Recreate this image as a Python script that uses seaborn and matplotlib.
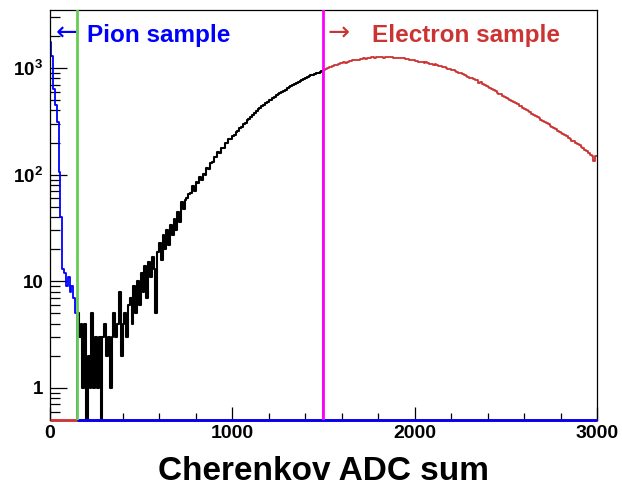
import numpy as np
import matplotlib
matplotlib.use("Agg")
import matplotlib.pyplot as plt
import matplotlib.transforms as mtransforms
from matplotlib.ticker import FixedLocator, MultipleLocator, NullFormatter, LogLocator
import seaborn as sns

# ---------------- data (counts per 10-ADC bin) ----------------
BIN_WIDTH = 10

pion_start = 0
pion_counts = [1760, 1300, 640, 450, 310, 105, 40, 13, 12, 9,
               11, 8, 9, 7, 5, 0]

black_start = 150
black_counts = [
    5, 3, 4, 1, 4, 0, 2, 1, 5, 1,
    3, 1, 3, 0, 3, 4, 2, 3, 1, 3,
    5, 3, 4, 8, 2, 4, 5, 3, 6, 7,
    4, 9, 5, 10, 6, 12, 8, 14, 7, 15,
    11, 17, 13, 5, 19, 23, 16, 27, 20, 30,
    22, 34, 27, 38, 30, 45, 36, 55, 48, 58,
    60, 66, 68, 79, 70, 86, 84, 95, 90, 102,
    100, 116, 114, 128, 130, 145, 146, 162, 160, 178,
    178, 196, 196, 214, 215, 232, 236, 252, 255, 276,
    282, 296, 308, 322, 333, 350, 362, 381, 396, 410,
    422, 440, 450, 468, 478, 496, 506, 522, 538, 555,
    568, 585, 596, 614, 628, 650, 662, 680, 694, 712,
    726, 742, 756, 774, 788, 810, 822, 838, 852, 866,
    876, 892, 902, 916, 932]

electron_start = 1490
electron_counts = [
    0,
    958, 985, 1002, 1030, 1018, 1052, 1070, 1062, 1095, 1108,
    1118, 1132, 1125, 1150, 1168, 1160, 1185, 1178, 1200, 1192,
    1222, 1210, 1236, 1228, 1246, 1238, 1255, 1262, 1244, 1268,
    1258, 1275, 1262, 1250, 1268, 1260, 1255, 1264, 1248, 1252,
    1245, 1238, 1250, 1230, 1232, 1212, 1220, 1200, 1195, 1178,
    1165, 1172, 1150, 1142, 1148, 1122, 1130, 1110, 1098, 1088,
    1078, 1080, 1058, 1048, 1040, 1025, 1012, 1008, 985, 972,
    958, 948, 935, 922, 905, 892, 878, 860, 850, 832,
    808, 812, 790, 770, 765, 728, 735, 712, 690, 672,
    658, 645, 640, 618, 610, 588, 575, 572, 550, 538,
    522, 516, 500, 492, 482, 465, 458, 445, 436, 420,
    412, 405, 398, 385, 372, 364, 358, 345, 338, 325,
    320, 312, 302, 298, 286, 280, 272, 268, 258, 250,
    246, 240, 236, 228, 220, 216, 208, 205, 198, 192,
    188, 182, 176, 170, 165, 160, 152, 148, 135, 150]

pion_cut = 153
electron_cut = 1500
x_range = (0, 3000)
y_range = (0.5, 3500)
x_ticks = [0, 1000, 2000, 3000]
x_tick_labels = ["0", "1000", "2000", "3000"]
y_ticks = [1, 10, 100, 1000]
y_tick_labels = ["1", "10", "$10^{2}$", "$10^{3}$"]
x_label = "Cherenkov ADC sum"
pion_text = "Pion sample"
electron_text = "Electron sample"
left_arrow = "\u2190"
right_arrow = "\u2192"

# ---------------- style ----------------
BLUE = "#0000ff"
RED = "#cc3333"
GREEN = "#66cc55"
MAGENTA = "#ff00ff"

sns.set_style("ticks")
plt.rcParams.update({
    "font.family": ["Liberation Sans", "DejaVu Sans"],
    "font.weight": "bold",
    "text.color": "black",
    "axes.labelcolor": "black",
    "xtick.color": "black",
    "ytick.color": "black",
    "axes.edgecolor": "black",
    "mathtext.fontset": "custom",
    "mathtext.rm": "Liberation Sans:bold",
    "mathtext.bf": "Liberation Sans:bold",
    "mathtext.it": "Liberation Sans:bold",
    "mathtext.default": "rm",
})

fig = plt.figure(figsize=(6.22, 4.87), dpi=100)
ax = fig.add_axes([49.5 / 622, 1 - 420 / 487, 547.5 / 622, 410 / 487])


def draw_hist(start, counts, color, lw):
    counts = np.asarray(counts, dtype=float)
    edges = start + BIN_WIDTH * np.arange(len(counts) + 1)
    centers = 0.5 * (edges[:-1] + edges[1:])
    sns.histplot(x=centers, weights=counts, bins=edges.tolist(),
                 element="step", fill=False, color=color, linewidth=lw,
                 ax=ax)
    return edges


ax.set_yscale("log")

# red (electron sample) first; its empty bins run along the floor
e_edges = draw_hist(electron_start, electron_counts, RED, 1.3)
ax.hlines(y_range[0], x_range[0], x_range[1], color=RED, lw=2.0,
          clip_on=False, zorder=3)
draw_hist(black_start, black_counts, "black", 1.5)
p_edges = draw_hist(pion_start, pion_counts, BLUE, 1.3)
pion_end = p_edges[-2]
ax.hlines(y_range[0], pion_end, x_range[1], color=BLUE, lw=2.0,
          clip_on=False, zorder=3)

ax.axvline(pion_cut, color=GREEN, lw=2.0, zorder=4)
ax.axvline(electron_cut, color=MAGENTA, lw=2.0, zorder=4)

ax.set_xlim(*x_range)
ax.set_ylim(*y_range)

ax.xaxis.set_major_locator(FixedLocator(x_ticks))
ax.set_xticklabels(x_tick_labels)
ax.xaxis.set_minor_locator(MultipleLocator(200))
ax.yaxis.set_major_locator(FixedLocator(y_ticks))
ax.set_yticklabels(y_tick_labels)
ax.yaxis.set_minor_locator(LogLocator(base=10, subs=np.arange(2, 10)))
ax.yaxis.set_minor_formatter(NullFormatter())

ax.tick_params(axis="both", which="both", direction="in", top=False,
               right=False, width=0.9, color="black", labelcolor="black")
ax.tick_params(axis="x", which="major", length=9.5, pad=3.5, labelsize=14)
ax.tick_params(axis="x", which="minor", length=5)
ax.tick_params(axis="y", which="major", length=12, pad=4.5, labelsize=13.5)
ax.tick_params(axis="y", which="minor", length=7)

for s in ax.spines.values():
    s.set_visible(True)
    s.set_linewidth(0.9)
    s.set_color("black")

ax.set_ylabel("")
ax.set_xlabel(x_label, fontsize=24, fontweight="bold", va="baseline",
              color="black")
ax.xaxis.set_label_coords(0.5005, (420 - 480) / 410)

trans = mtransforms.blended_transform_factory(ax.transData, ax.transAxes)
ax.text(204, 0.9227, pion_text, color=BLUE, fontsize=17.5,
        fontweight="bold", transform=trans, ha="left", va="baseline")
ax.text(95, 0.925, left_arrow, color=BLUE, fontsize=19,
        family="DejaVu Sans", fontweight="normal", transform=trans,
        ha="center", va="baseline")
ax.text(1765, 0.9227, electron_text, color=RED, fontsize=17.5,
        fontweight="bold", transform=trans, ha="left", va="baseline")
ax.text(1586, 0.925, right_arrow, color=RED, fontsize=19,
        family="DejaVu Sans", fontweight="normal", transform=trans,
        ha="center", va="baseline")

fig.savefig("out.png", dpi=100)
